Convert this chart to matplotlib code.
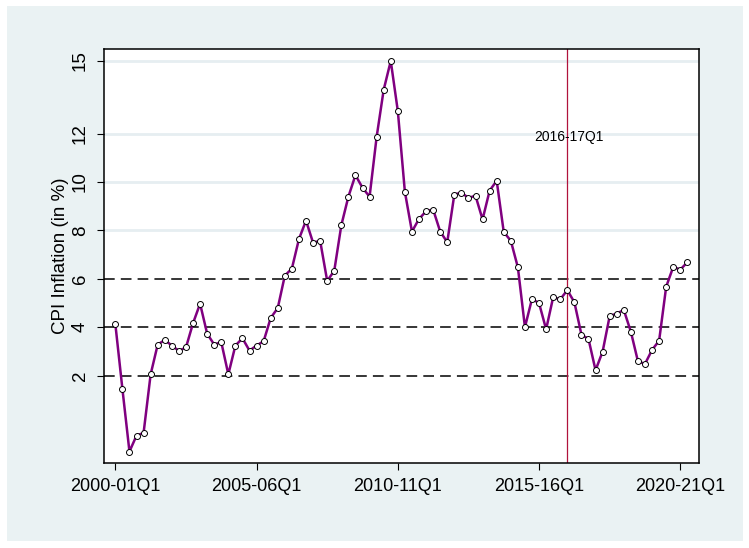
import matplotlib.pyplot as plt
from matplotlib.patches import Rectangle

# CPI inflation, quarterly from 2000-01Q1
cpi = [4.13, 1.45, -1.14, -0.48, -0.37, 2.05, 3.28, 3.47, 3.24, 3.02,
       3.16, 4.16, 4.97, 3.73, 3.28, 3.38, 2.05, 3.24, 3.54, 3.03,
       3.24, 3.42, 4.38, 4.79, 6.13, 6.42, 7.64, 8.40, 7.49, 7.57,
       5.91, 6.33, 8.21, 9.39, 10.28, 9.76, 9.39, 11.86, 13.81, 15.00,
       12.93, 9.59, 7.95, 8.47, 8.79, 8.86, 7.95, 7.51, 9.48, 9.56,
       9.34, 9.43, 8.45, 9.64, 10.05, 7.93, 7.57, 6.47, 4.00, 5.17,
       4.99, 3.91, 5.24, 5.15, 5.53, 5.03, 3.69, 3.51, 2.22, 2.99,
       4.46, 4.56, 4.71, 3.81, 2.59, 2.48, 3.06, 3.44, 5.67, 6.49,
       6.38, 6.68]
quarter = list(range(len(cpi)))

tick_pos = [0, 20, 40, 60, 80]
tick_labels = ['2000-01Q1', '2005-06Q1', '2010-11Q1', '2015-16Q1', '2020-21Q1']
y_ticks = [2, 4, 6, 8, 10, 12, 15]
dashed_levels = [2, 4, 6]
solid_levels = [8, 10, 12, 15]
event_q = 64
event_label = '2016-17Q1'

plt.rcParams['font.family'] = ['Liberation Sans', 'DejaVu Sans']

fig = plt.figure(figsize=(7.49, 5.48), dpi=100, facecolor='white')
# light Stata-like background panel
fig.patches.append(Rectangle((7 / 749, 7 / 548), 736 / 749, 535 / 548,
                             transform=fig.transFigure, facecolor='#EAF2F3',
                             edgecolor='none', zorder=-10))

ax = fig.add_axes([0.1389, 0.1557, 0.7939, 0.7543])
ax.set_facecolor('white')

# reference lines
for lev in solid_levels:
    ax.axhline(lev, color='#E6EEF1', lw=2, zorder=1)
for lev in dashed_levels:
    ax.axhline(lev, color='black', lw=1.1, dashes=(7, 4), zorder=2)

ax.axvline(event_q, color='#B0123C', lw=0.9, zorder=2)
ax.text(event_q + 0.2, 11.85, event_label, fontsize=10, ha='center',
        va='center', zorder=3)

ax.plot(quarter, cpi, color='#800080', lw=1.8, marker='o', markersize=4.3,
        markerfacecolor='white', markeredgecolor='black', markeredgewidth=0.7,
        zorder=4)

ax.set_xlim(-1.6, 82.6)
ax.set_ylim(-1.6, 15.48)
ax.set_xticks(tick_pos)
ax.set_xticklabels(tick_labels, fontsize=13)
ax.set_yticks(y_ticks)
ax.set_yticklabels([str(v) for v in y_ticks], fontsize=13.5, rotation=90,
                   va='center')
ax.tick_params(axis='both', length=5, width=0.8, pad=6)
ax.set_ylabel('CPI Inflation (in %)', fontsize=13.5, labelpad=2)

for side in ['left', 'bottom', 'top', 'right']:
    ax.spines[side].set_linewidth(1.1)

fig.savefig('out.png', dpi=100, facecolor=fig.get_facecolor())
